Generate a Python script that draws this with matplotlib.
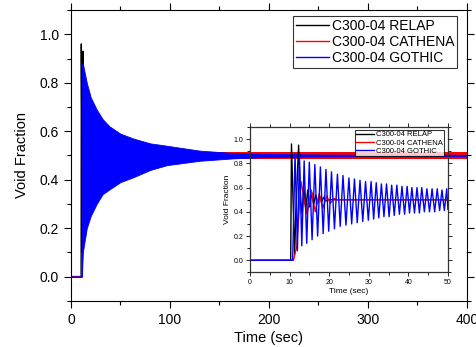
import matplotlib.pyplot as plt
from matplotlib.ticker import MultipleLocator

plt.rcParams["font.family"] = ["Liberation Sans", "DejaVu Sans"]

# ---- main chart (0-400 s) ----
relap_t = [0, 10.3, 10.5, 11.0, 11.4, 12.2, 12.5, 13.2, 20, 400]
relap_v = [0, 0, 0.96, 0.60, 0.10, 0.93, 0.60, 0.40, 0.50, 0.50]

cathena_t = [0, 11.5, 11.8, 12.0, 12.5, 400]
cathena_v = [0, 0, 0.10, 0.10, 0.50, 0.50]
cathena_band_t = [13, 100, 200, 300, 400]
cathena_band_hi = [0.513, 0.513, 0.513, 0.513, 0.513]
cathena_band_lo = [0.487, 0.487, 0.487, 0.487, 0.487]

gothic_t = [0, 10.8, 10.9, 12, 16, 20, 26, 32, 39, 50, 63, 80, 97, 130, 164,
            200, 250, 300, 350, 400]
gothic_hi = [0, 0, 0.88, 0.88, 0.80, 0.74, 0.69, 0.65, 0.62, 0.59, 0.57,
             0.55, 0.54, 0.52, 0.51, 0.506, 0.504, 0.503, 0.503, 0.503]
gothic_lo = [0, 0, 0.0, 0.10, 0.20, 0.25, 0.30, 0.34, 0.36, 0.39, 0.41,
             0.44, 0.46, 0.478, 0.488, 0.494, 0.496, 0.497, 0.497, 0.497]

# ---- inset (0-50 s) ----
in_relap_t = [0, 10.3, 10.5, 10.8, 11.3, 11.6, 12.3, 12.8, 13.2, 13.6, 14.1,
              14.6, 15.1, 15.6, 16.1, 16.6, 17.1, 17.6, 18.1, 18.6, 19.1, 20, 50]
in_relap_v = [0, 0, 0.96, 0.60, 0.05, 0.40, 0.95, 0.50, 0.38, 0.60, 0.42,
              0.58, 0.44, 0.56, 0.46, 0.54, 0.47, 0.53, 0.48, 0.52, 0.49, 0.50, 0.50]

in_cathena_t = [0, 11.0, 11.5, 11.8, 12.9, 14.4, 15.5, 16.5, 17.5, 18.4, 19.4,
                20.3, 21.3, 22.0, 50]
in_cathena_v = [0, 0, 0.07, 0.10, 0.65, 0.38, 0.58, 0.40, 0.55, 0.43, 0.53,
                0.47, 0.51, 0.50, 0.50]

in_gothic_t = [0, 10.8, 11.4, 12.0, 12.5, 13.1, 13.7, 14.35, 15.0, 15.7, 16.4,
               17.1, 17.8, 18.5, 19.2, 19.9, 20.6, 21.35, 22.1, 22.8, 23.5,
               24.25, 25.0, 25.7, 26.4, 27.1, 27.8, 28.5, 29.2, 29.9, 30.6,
               31.25, 31.9, 32.55, 33.2, 33.85, 34.5, 35.15, 35.8, 36.45, 37.1,
               37.75, 38.4, 39.05, 39.7, 40.3, 40.9, 41.55, 42.2, 42.8, 43.4,
               44.05, 44.7, 45.35, 46.0, 46.65, 47.3, 47.9, 48.5, 49.1, 49.7, 50.0]
in_gothic_v = [0, 0, 0.88, 0.08, 0.88, 0.12, 0.82, 0.14, 0.81, 0.17, 0.79,
               0.20, 0.77, 0.22, 0.75, 0.24, 0.73, 0.26, 0.71, 0.28, 0.70,
               0.29, 0.68, 0.30, 0.67, 0.31, 0.66, 0.32, 0.65, 0.33, 0.65,
               0.34, 0.64, 0.35, 0.63, 0.36, 0.63, 0.36, 0.62, 0.37, 0.62,
               0.38, 0.61, 0.38, 0.61, 0.39, 0.60, 0.39, 0.60, 0.39, 0.60,
               0.40, 0.59, 0.40, 0.59, 0.40, 0.59, 0.41, 0.58, 0.41, 0.59, 0.42]

labels = ["C300-04 RELAP", "C300-04 CATHENA", "C300-04 GOTHIC"]

fig = plt.figure(figsize=(4.76, 3.47), dpi=100)
ax = fig.add_axes([0.149, 0.133, 0.832, 0.838])

# main traces: GOTHIC band sits on top of the other two, like the original
ax.plot(relap_t, relap_v, color="black", lw=1.0, label=labels[0], zorder=2)
ax.fill_between(cathena_band_t, cathena_band_lo, cathena_band_hi, color="red",
                lw=0, zorder=2)
ax.plot(cathena_t, cathena_v, color="red", lw=1.0, label=labels[1], zorder=2)
ax.fill_between(gothic_t, gothic_lo, gothic_hi, color="blue", lw=0.6,
                edgecolor="blue", zorder=3)
ax.plot([], [], color="blue", lw=1.0, label=labels[2])

ax.set_xlim(0, 400)
ax.set_ylim(-0.1, 1.1)
ax.xaxis.set_major_locator(MultipleLocator(100))
ax.xaxis.set_minor_locator(MultipleLocator(50))
ax.yaxis.set_major_locator(MultipleLocator(0.2))
ax.yaxis.set_minor_locator(MultipleLocator(0.1))
ax.yaxis.set_major_formatter(plt.FormatStrFormatter("%.1f"))
ax.tick_params(which="both", direction="out", labelsize=10, width=0.8)
ax.tick_params(which="major", length=5)
ax.tick_params(which="minor", length=3)
ax.tick_params(which="both", top=True, right=True)
ax.set_xlabel("Time (sec)", fontsize=10.5, labelpad=3)
ax.set_ylabel("Void Fraction", fontsize=10.5, labelpad=8)

leg = ax.legend(loc="upper right", bbox_to_anchor=(0.975, 0.98), fontsize=10,
                frameon=True, fancybox=False, edgecolor="black",
                handlelength=2.4, handletextpad=0.2, labelspacing=0.15,
                borderpad=0.2, borderaxespad=0)
leg.get_frame().set_linewidth(0.8)

# inset
ins = fig.add_axes([0.525, 0.215, 0.416, 0.419])
ins.patch.set_alpha(0)
ins.plot(in_relap_t, in_relap_v, color="black", lw=1.0, label=labels[0])
ins.plot(in_cathena_t, in_cathena_v, color="red", lw=1.0, label=labels[1])
ins.plot(in_gothic_t, in_gothic_v, color="blue", lw=1.0, label=labels[2])
ins.set_xlim(0, 50)
ins.set_ylim(-0.1, 1.1)
ins.xaxis.set_major_locator(MultipleLocator(10))
ins.xaxis.set_minor_locator(MultipleLocator(5))
ins.yaxis.set_major_locator(MultipleLocator(0.2))
ins.yaxis.set_minor_locator(MultipleLocator(0.1))
ins.yaxis.set_major_formatter(plt.FormatStrFormatter("%.1f"))
ins.tick_params(which="both", direction="out", labelsize=5, width=0.6, pad=1.5)
ins.tick_params(which="major", length=3)
ins.tick_params(which="minor", length=2)
ins.tick_params(which="both", top=True, right=True)
for s in ins.spines.values():
    s.set_color("#333333")
    s.set_linewidth(0.9)
ins.set_xlabel("Time (sec)", fontsize=6, labelpad=2)
ins.set_ylabel("Void Fraction", fontsize=6, labelpad=2)
ileg = ins.legend(loc="upper right", bbox_to_anchor=(0.98, 0.98), fontsize=5.5,
                  frameon=True, fancybox=False, edgecolor="black",
                  handlelength=2.4, handletextpad=0.2, labelspacing=0.1,
                  borderpad=0.15, borderaxespad=0)
ileg.get_frame().set_linewidth(0.8)

fig.savefig("out.png", dpi=100)
